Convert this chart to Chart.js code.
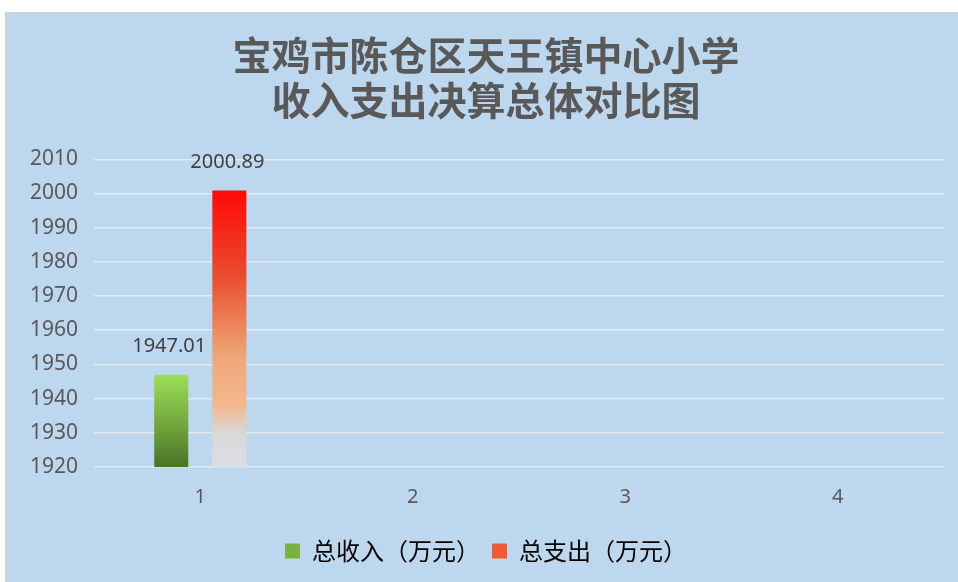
<!DOCTYPE html>
<html>
<head>
<meta charset="utf-8">
<script src="https://cdn.jsdelivr.net/npm/chart.js@4"></script>
<style>
  html, body { margin: 0; padding: 0; background: #fff; }
  #box {
    position: absolute; left: 5px; top: 12px; width: 953px; height: 570px;
    background: #bdd7ee; border-top: 1px solid #d0d0d0; border-left: 1px solid #d0d0d0;
  }
</style>
</head>
<body>
<div id="box"><canvas id="bijiaoChart"></canvas></div>
<script>
const kategori = ['1', '2', '3', '4'];
const totalShouru = [1947.01, null, null, null];
const totalZhichu = [2000.89, null, null, null];
const yTicks = [1920, 1930, 1940, 1950, 1960, 1970, 1980, 1990, 2000, 2010];

document.addEventListener('DOMContentLoaded', function () {
  const ctx = document.getElementById('bijiaoChart');
  if (!ctx) return;

  // gradient per bar, from bar top down to the axis base
  function barGradient(context, stops) {
    const chart = context.chart;
    const y = chart.scales.y;
    if (!y || context.raw == null) return stops[0][1];
    const top = y.getPixelForValue(context.raw);
    const bottom = y.getPixelForValue(y.min);
    const g = chart.ctx.createLinearGradient(0, top, 0, bottom);
    stops.forEach(s => g.addColorStop(s[0], s[1]));
    return g;
  }

  const labelAtas = {
    id: 'labelAtas',
    afterDatasetsDraw(chart) {
      const c = chart.ctx;
      c.save();
      c.font = '20px "Noto Sans", sans-serif';
      c.fillStyle = '#404040';
      c.textAlign = 'center';
      c.textBaseline = 'middle';
      chart.data.datasets.forEach((ds, i) => {
        chart.getDatasetMeta(i).data.forEach((bar, j) => {
          const v = ds.data[j];
          if (v == null) return;
          c.fillText(v.toFixed(2), bar.x - 2, bar.y - 28);
        });
      });
      c.restore();
    }
  };

  new Chart(ctx, {
    type: 'bar',
    data: {
      labels: kategori,
      datasets: [{
        label: '总收入（万元）',
        data: totalShouru,
        backgroundColor: c => barGradient(c, [[0, '#9bdf55'], [0.5, '#75ab3f'], [1, '#4a7426']]),
        categoryPercentage: 0.547,
        barPercentage: 0.586
      }, {
        label: '总支出（万元）',
        data: totalZhichu,
        backgroundColor: c => barGradient(c, [[0, '#ff0a05'], [0.3, '#ea4a2d'], [0.6, '#eea777'], [0.78, '#f3b88f'], [0.88, '#d9d9d9'], [1, '#dadde2']]),
        categoryPercentage: 0.547,
        barPercentage: 0.586
      }]
    },
    options: {
      responsive: true,
      maintainAspectRatio: false,
      animation: false,
      layout: { padding: { left: 22, right: 15, top: 19, bottom: 10 } },
      plugins: {
        title: {
          display: true,
          text: ['宝鸡市陈仓区天王镇中心小学', '收入支出决算总体对比图'],
          color: '#595959',
          font: { family: '"Noto Sans CJK SC", sans-serif', size: 39, weight: 'bold', lineHeight: 1.17 },
          padding: { top: 0, bottom: 36 }
        },
        legend: {
          position: 'bottom',
          labels: {
            color: '#595959',
            font: { family: '"Noto Sans CJK SC", sans-serif', size: 24 },
            boxWidth: 15,
            boxHeight: 15,
            padding: 12,
            generateLabels: chart => chart.data.datasets.map((ds, i) => ({
              text: ds.label,
              fillStyle: i === 0 ? '#78b342' : '#f25a36',
              strokeStyle: 'transparent',
              lineWidth: 0,
              datasetIndex: i
            }))
          }
        },
        tooltip: { enabled: false }
      },
      scales: {
        y: {
          min: 1920,
          max: 2010,
          afterBuildTicks: axis => { axis.ticks = yTicks.map(v => ({ value: v })); },
          afterFit: axis => { axis.width -= 14; },
          ticks: {
            color: '#595959',
            font: { family: '"Noto Sans", sans-serif', size: 21 },
            padding: 16,
            callback: v => String(v)
          },
          grid: { color: '#e2e9f1', lineWidth: 1.5, drawTicks: false },
          border: { display: false }
        },
        x: {
          ticks: {
            color: '#595959',
            font: { family: '"Noto Sans", sans-serif', size: 20 },
            padding: 18
          },
          grid: { display: false, drawTicks: false },
          border: { display: false }
        }
      }
    },
    plugins: [labelAtas]
  });
});
</script>
</body>
</html>
